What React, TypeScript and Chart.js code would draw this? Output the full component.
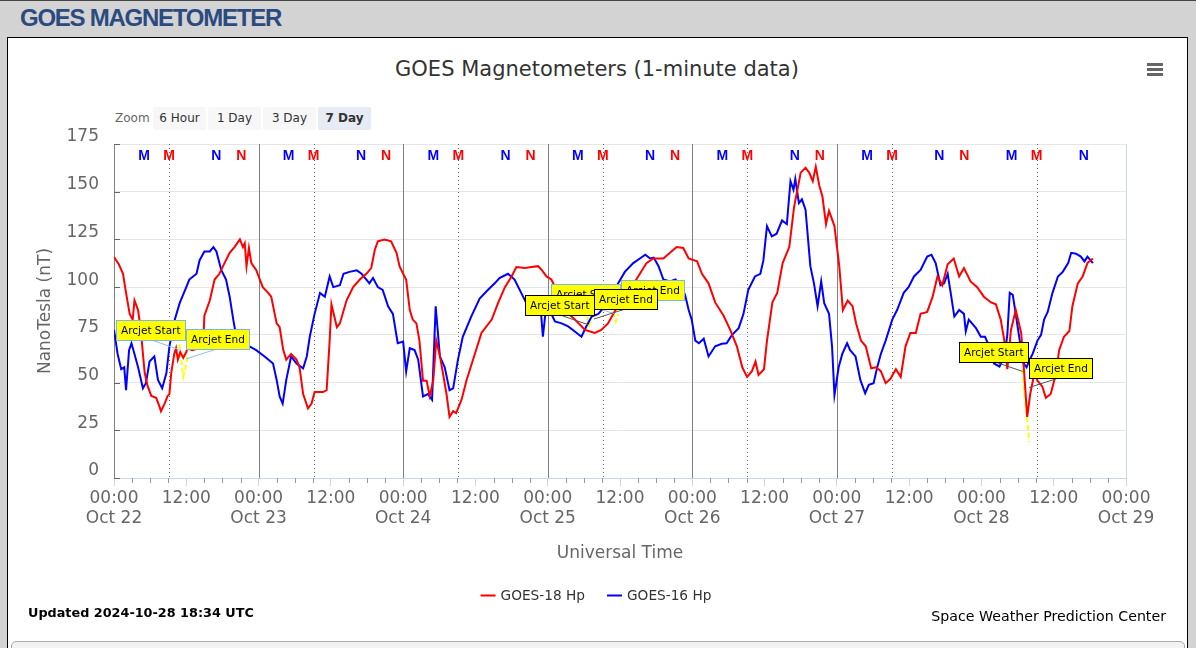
import React, { useEffect, useRef } from "react";
import { Chart, registerables } from "chart.js";

Chart.register(...registerables);

// ---------- data (x = hours since 2024-10-22 00:00 UTC, y = nT) ----------
const goes18Hp: [number, number][] = [
  [0,115.8],[0.8,112],[1.5,107],[2.0,97],[2.6,86],[3.1,83],[3.4,93],[4.0,88],[4.5,76],[4.8,65],[5.1,55],[5.6,48],[6.2,43],[7.0,42],[7.6,37],[7.8,35],[8.4,39],[8.9,43],[9.2,44],[9.5,55],[10.0,65],[10.3,68],[10.6,62],[11.0,66],[11.5,63],[12.0,66],[12.2,68],[13.0,67],[14.0,68],[14.8,69],[15.0,85],[15.9,93],[16.7,104],[17.5,107],[18.1,111],[19.2,118],[20.0,121],[20.9,125],[21.4,121],[21.7,123],[22.0,111],[22.4,120.5],[22.8,112.6],[23.6,109],[24.7,100],[25.6,97],[26.1,95],[27.0,81],[27.5,79],[28.1,67],[28.6,62],[29.4,65],[30.3,62],[30.8,58],[31.4,44],[32.2,36.5],[32.8,39],[33.3,45],[34.7,45],[35.3,46],[35.8,72],[36.1,91],[37.0,79],[37.5,81],[38.6,93],[39.7,100],[40.8,104],[41.9,107],[42.7,110],[43.3,119.6],[43.8,124],[44.9,125],[46.0,124],[46.9,118],[47.4,111],[48.0,107],[48.5,104],[49.1,88],[49.6,83],[50.2,81],[50.7,72],[51.3,51],[51.9,51],[52.4,43],[53.0,51],[53.5,72],[54.1,64],[54.6,55],[55.2,44],[55.7,32],[56.3,35],[56.8,34],[57.7,41],[58.5,51],[59.9,65],[61.0,76],[62.7,83],[63.8,92],[64.9,100],[66.0,105.6],[66.8,110.5],[68.2,110],[69.3,110.5],[70.4,111],[71.0,109],[71.8,105.6],[72.6,104],[73.7,97],[74.8,88],[76.5,83],[78.2,77.6],[79.8,76],[80.9,77.6],[82.0,81],[82.9,86],[84.0,92],[85.5,98],[87.3,107],[88.4,112.6],[89.5,115],[91.2,115],[92.3,118],[93.4,121],[94.5,120.5],[95.4,115],[96.8,113.5],[97.6,107],[98.7,102],[99.8,92],[101.2,85],[102.3,77.6],[103.4,69],[104.3,58],[105.1,53],[105.9,56],[106.5,61],[107.0,54],[107.9,57],[108.4,72],[109.3,92],[110.1,97],[111.0,112.6],[112.1,121],[112.9,142],[114.0,160],[114.8,162.5],[115.4,160],[116.0,155.5],[116.5,163],[117.1,153],[117.6,147.6],[118.2,133],[118.7,140],[119.6,132],[120.4,111],[121.0,88],[121.8,93],[122.6,90],[123.2,81],[124.0,72],[124.8,69],[125.7,57.5],[126.5,58],[127.3,56],[128.1,49.7],[128.9,52],[129.8,57],[130.6,53],[131.4,69],[132.2,76],[133.1,76],[133.9,86],[135.0,87],[135.9,95],[136.7,105.6],[137.5,101],[138.4,112],[139.4,115],[140.3,105.6],[141.1,110],[142.2,103],[143.3,100],[144.4,95],[145.6,92],[146.4,91],[147.2,83],[147.8,72],[148.3,57],[148.9,77.6],[149.7,88],[150.6,76],[151.1,55],[151.6,32],[152.1,44],[152.8,55],[153.3,51],[154.1,48],[154.7,42],[155.5,44],[156.4,55],[156.9,67],[157.7,74],[158.6,77],[159.1,90],[160.0,102],[160.8,105.6],[161.6,112.6],[162.5,115],
];

const goes16Hp: [number, number][] = [
  [0,77.6],[0.6,65],[1.2,57],[1.7,58],[2.0,46],[2.5,67],[2.9,70.6],[3.4,65],[4.0,58],[4.8,47],[5.3,49.7],[5.9,61],[6.7,63.7],[7.3,51.4],[8.0,47],[8.7,55],[9.2,69],[10.1,83],[10.9,91.6],[12.0,100],[12.5,104],[13.7,107],[14.2,114],[15.0,118.7],[15.9,118.7],[16.5,121],[17.0,118.7],[17.8,109],[18.6,104],[19.2,95],[19.8,83],[20.3,74],[21.4,70.6],[22.5,69],[23.6,67],[25.0,63.7],[26.4,60],[27.0,51.4],[27.5,42.7],[28.0,39],[28.6,51.4],[29.4,63.7],[30.3,60],[31.4,57.5],[32.0,63.7],[32.5,74],[33.3,86],[34.2,97],[35.0,95],[35.8,105.6],[36.4,100],[37.5,101],[38.1,107],[39.1,108],[40.3,108.8],[41.1,107],[41.9,104],[42.4,102],[43.0,104.8],[43.8,100],[44.6,98.6],[45.5,90],[46.3,86],[47.1,70.6],[48.0,71.5],[48.5,55.8],[49.1,68],[49.9,67],[50.5,62],[51.3,42.7],[52.1,44],[52.8,41],[53.4,90],[54.1,63.7],[54.9,58],[55.7,46],[56.3,47],[57.1,62],[57.9,74],[59.3,84.6],[60.7,94],[62.1,98.6],[63.2,102],[64.0,104.8],[65.4,107],[66.5,104],[67.6,97],[68.7,90],[69.8,86],[70.9,86],[71.2,74],[71.8,91.6],[72.3,88],[73.2,82],[74.3,81],[75.4,79.4],[76.5,76.8],[77.6,74],[78.4,79.4],[79.3,84.6],[80.4,86],[81.5,90],[82.6,95],[83.7,102],[84.8,108],[86.2,112.6],[87.3,115],[88.2,117],[89.0,115],[89.6,115.5],[90.4,111],[91.2,104],[92.3,103],[93.2,104],[94.2,100],[94.8,96],[95.4,88],[95.9,83],[96.5,72],[97.1,70.6],[97.9,73],[98.7,63.7],[99.8,69],[100.9,70.3],[101.7,70.6],[102.6,75],[103.7,78.5],[104.5,86],[105.3,98.6],[106.4,105.6],[107.3,107],[107.8,114],[108.4,132],[109.2,126.6],[110.0,128],[110.9,135],[111.7,133],[112.3,155.5],[112.8,151],[113.1,156.7],[113.7,144],[114.2,146],[114.8,140.6],[115.6,111],[116.2,102],[116.8,90],[117.4,103],[117.9,91.6],[118.7,86],[119.2,69],[119.6,43.5],[120.3,58],[120.9,65],[121.7,70.6],[122.2,67],[123.1,63.7],[123.9,51.4],[124.7,44.4],[125.3,48.8],[126.1,49.7],[126.7,58],[127.3,65],[128.1,72],[129.2,83],[130.0,88],[131.1,97],[131.9,100],[132.8,105.6],[133.9,109],[135.0,116],[135.7,117],[136.4,112.6],[137.2,101],[137.8,102],[138.4,107],[138.9,97],[139.5,84.6],[140.3,88],[141.1,86],[141.4,76.8],[141.9,83],[143.1,78.5],[143.9,74],[144.6,74],[145.3,69],[146.1,60],[147.0,58.4],[147.8,63.7],[148.3,75],[148.7,97],[149.2,96],[149.6,88],[150.0,79.4],[150.6,67],[151.0,60],[151.5,58],[152.0,62],[152.5,65],[153.3,72],[153.9,75],[154.4,83],[155.0,87],[155.8,97],[156.7,105.6],[157.5,108],[158.4,112.6],[158.9,118],[159.7,117.5],[160.5,116],[161.1,113.5],[161.6,116],[162.5,112.6],
];

// arcjet periods (null = gap between events)
const arcjetHp: [number, number | null][] = [
  [10.9,70],[11.0,66],[11.2,62],[11.4,55],[11.5,53],[11.7,56],[11.9,58],[12.1,62],[12.2,64],[12.3,null],
  [78.6,84.6],[78.9,80],[79.3,83],[79.4,null],
  [82.9,87],[83.3,82],[83.7,86],[83.8,null],
  [150.8,57],[151.0,50],[151.2,42],[151.4,36],[151.6,30],[151.8,24],[151.9,19],
];

const annotationTexts = ["Arcjet Start","Arcjet End","Arcjet Start","Arcjet End","Arcjet Start","Arcjet End","Arcjet Start","Arcjet End"];
const annotationHours = [10.89, 11.97, 83.07, 84.18, 78.74, 79.69, 150.86, 151.91];
const annotationValues = [67.2, 62.4, 86.0, 87.8, 80.3, 83.3, 55.8, 47.4];
const annotationStyle = ["light","light","light","light","dark","dark","dark","dark"];

const dayLabels = ["Oct 22","Oct 23","Oct 24","Oct 25","Oct 26","Oct 27","Oct 28","Oct 29"];
const dayBoundaryHours = [24, 48, 72, 96, 120];
const g16MidnightHours = [5, 29, 53, 77, 101, 125, 149];
const g16NoonHours = [17, 41, 65, 89, 113, 137, 161];
const g18MidnightHours = [9.15, 33.15, 57.15, 81.15, 105.15, 129.15, 153.15];
const g18NoonHours = [21.15, 45.15, 69.15, 93.15, 117.15, 141.15];
const yTickValues = [0, 25, 50, 75, 100, 125, 150, 175];

const FONT = "'DejaVu Sans', sans-serif";
const RED = "#ff0000";
const BLUE = "#0000ff";

const overlayPlugin = {
  id: "overlay",
  beforeDatasetsDraw(chart: any) {
    const { ctx, chartArea: a, scales } = chart;
    const x = scales.x, y = scales.y;
    ctx.save();
    ctx.lineWidth = 1;
    const vline = (h: number, color: string, dash: number[]) => {
      const px = Math.round(x.getPixelForValue(h)) + 0.5;
      ctx.strokeStyle = color;
      ctx.setLineDash(dash);
      ctx.beginPath();
      ctx.moveTo(px, a.top);
      ctx.lineTo(px, a.bottom);
      ctx.stroke();
    };
    dayBoundaryHours.forEach((h) => vline(h, "#808080", []));
    g18MidnightHours.forEach((h) => vline(h, "#666666", [1, 3]));
    ctx.setLineDash([]);
    ctx.strokeStyle = "#ccd6eb";
    ctx.beginPath();
    ctx.moveTo(Math.round(a.right) + 0.5, a.top);
    ctx.lineTo(Math.round(a.right) + 0.5, a.bottom);
    ctx.stroke();
    ctx.strokeStyle = "#666666";
    yTickValues.forEach((v) => {
      const py = Math.round(y.getPixelForValue(v)) + 0.5;
      ctx.beginPath();
      ctx.moveTo(a.left, py);
      ctx.lineTo(a.left + 6, py);
      ctx.stroke();
    });
    ctx.strokeStyle = "#999999";
    for (let h = 3; h < 168; h += 3) {
      if (h % 12 === 0) continue;
      const px = Math.round(x.getPixelForValue(h)) + 0.5;
      ctx.beginPath();
      ctx.moveTo(px, a.bottom);
      ctx.lineTo(px, a.bottom + 5);
      ctx.stroke();
    }
    ctx.restore();
  },
  afterDatasetsDraw(chart: any) {
    const { ctx, chartArea: a, scales } = chart;
    const x = scales.x, y = scales.y;
    ctx.save();
    ctx.font = "bold 14px 'Liberation Sans', Arial, sans-serif";
    ctx.textAlign = "center";
    ctx.textBaseline = "middle";
    const mark = (hours: number[], text: string, color: string) => {
      ctx.fillStyle = color;
      hours.forEach((h) => ctx.fillText(text, x.getPixelForValue(h), a.top + 12));
    };
    mark(g16MidnightHours, "M", BLUE);
    mark(g18MidnightHours, "M", RED);
    mark(g16NoonHours, "N", BLUE);
    mark(g18NoonHours, "N", RED);

    ctx.font = `10.5px ${FONT}`;
    annotationTexts.forEach((text, i) => {
      const ax = x.getPixelForValue(annotationHours[i]);
      const ay = y.getPixelForValue(annotationValues[i]);
      const isStart = text.indexOf("Start") >= 0;
      const w = Math.round(ctx.measureText(text).width + 9);
      const h = 20;
      const cx = ax + (isStart ? -29 : 31);
      const bottom = ay - 10;
      const left = Math.round(cx - w / 2) + 0.5;
      const top = Math.round(bottom - h) + 0.5;
      const light = annotationStyle[i] === "light";
      ctx.strokeStyle = light ? "#8fbde8" : "#555555";
      ctx.lineWidth = 1;
      ctx.beginPath();
      ctx.moveTo(cx, bottom);
      ctx.lineTo(ax, ay);
      ctx.stroke();
      ctx.fillStyle = "#ffff00";
      ctx.fillRect(left, top, w, h);
      ctx.strokeStyle = light ? "#7cb5ec" : "#000000";
      ctx.strokeRect(left, top, w, h);
      ctx.fillStyle = "#000000";
      ctx.textAlign = "left";
      ctx.textBaseline = "middle";
      ctx.fillText(text, left + 4.5, top + h / 2 + 0.5);
    });

    const items = chart.data.datasets.filter((d: any) => d.label !== "Arcjet");
    ctx.font = `13.7px ${FONT}`;
    const sym = 15, gapSym = 5, gapItem = 22;
    const widths = items.map((d: any) => ctx.measureText(d.label).width);
    const total = widths.reduce((s: number, w: number) => s + sym + gapSym + w, 0) + gapItem * (items.length - 1);
    let lx = chart.width / 2 - total / 2 - 1;
    const ly = 557.5;
    items.forEach((d: any, i: number) => {
      ctx.strokeStyle = d.borderColor;
      ctx.lineWidth = 2;
      ctx.beginPath();
      ctx.moveTo(lx, ly);
      ctx.lineTo(lx + sym, ly);
      ctx.stroke();
      ctx.fillStyle = "#333333";
      ctx.textAlign = "left";
      ctx.textBaseline = "middle";
      ctx.fillText(d.label, lx + sym + gapSym, ly + 0.5);
      lx += sym + gapSym + widths[i] + gapItem;
    });
    ctx.restore();
  },
};

const zoomButtons = ["6 Hour", "1 Day", "3 Day", "7 Day"];

export default function App() {
  const canvasRef = useRef<HTMLCanvasElement>(null);

  useEffect(() => {
    const canvas = canvasRef.current;
    if (!canvas) return;
    const chart = new Chart(canvas, {
      type: "line",
      data: {
        datasets: [
          {
            label: "GOES-18 Hp",
            data: goes18Hp.map(([h, v]) => ({ x: h, y: v })),
            borderColor: RED,
            backgroundColor: RED,
            borderWidth: 2,
            pointRadius: 0,
            tension: 0,
          },
          {
            label: "GOES-16 Hp",
            data: goes16Hp.map(([h, v]) => ({ x: h, y: v })),
            borderColor: BLUE,
            backgroundColor: BLUE,
            borderWidth: 2,
            pointRadius: 0,
            tension: 0,
          },
          {
            label: "Arcjet",
            data: arcjetHp.map(([h, v]) => ({ x: h, y: v })),
            borderColor: "#ffff00",
            backgroundColor: "#ffff00",
            borderWidth: 2,
            borderDash: [5, 3],
            pointRadius: 0,
            tension: 0,
            spanGaps: false,
          },
        ],
      } as any,
      options: {
        responsive: false,
        animation: false,
        events: [],
        layout: { padding: { top: 106, right: 60, left: 0, bottom: 12 } },
        plugins: {
          legend: { display: false },
          title: { display: false },
          tooltip: { enabled: false },
        },
        scales: {
          x: {
            type: "linear",
            min: 0,
            max: 168,
            afterFit: (s: any) => { s.height = 122; },
            grid: { display: true, drawOnChartArea: false, drawTicks: true, tickLength: 8, color: "#ccd6eb" },
            border: { display: true, color: "#ccd6eb" },
            ticks: {
              stepSize: 12,
              autoSkip: false,
              maxRotation: 0,
              minRotation: 0,
              padding: 2,
              color: "#666666",
              font: { size: 17, family: FONT },
              callback: (v: any) => {
                const h = Number(v);
                if (h % 24 === 0) return ["00:00", dayLabels[h / 24]];
                return "12:00";
              },
            },
            title: {
              display: true,
              text: "Universal Time",
              color: "#666666",
              font: { size: 17, family: FONT },
              padding: { top: 0, bottom: 36 },
            },
          },
          y: {
            min: 0,
            max: 175,
            afterFit: (s: any) => { s.width = 106; },
            grid: { color: "#e6e6e6", drawTicks: false, tickLength: 0 },
            border: { display: true, color: "#808080" },
            ticks: {
              stepSize: 25,
              padding: 15,
              labelOffset: -7,
              color: "#666666",
              font: { size: 17, family: FONT },
            },
            title: {
              display: true,
              text: "NanoTesla (nT)",
              color: "#666666",
              font: { size: 17, family: FONT },
              padding: { top: 27, bottom: 0 },
            },
          },
        },
      } as any,
      plugins: [overlayPlugin],
    });
    return () => chart.destroy();
  }, []);

  return (
    <div
      style={{
        position: "fixed",
        left: 0,
        top: 0,
        width: 1196,
        height: 648,
        overflow: "hidden",
        background: "#d3d3d3",
        fontFamily: FONT,
      }}
    >
      <div style={{ position: "absolute", left: 0, top: 0, width: 1196, height: 1, background: "#444" }} />
      <div
        style={{
          position: "absolute",
          left: 20,
          top: 6,
          fontFamily: "'Liberation Sans', Arial, sans-serif",
          fontWeight: "bold",
          fontSize: 24,
          lineHeight: "24px",
          letterSpacing: "-1.25px",
          color: "#2b4a7f",
          whiteSpace: "nowrap",
        }}
      >
        GOES MAGNETOMETER
      </div>
      <div
        style={{
          position: "absolute",
          left: 7,
          top: 37,
          width: 1179,
          height: 640,
          background: "#ffffff",
          border: "1px solid #000",
        }}
      />
      <div
        style={{
          position: "absolute",
          left: 8,
          top: 57,
          width: 1178,
          textAlign: "center",
          fontSize: 21,
          lineHeight: "24px",
          color: "#333333",
          whiteSpace: "nowrap",
        }}
      >
        GOES Magnetometers (1-minute data)
      </div>
      {[63, 68, 73].map((t) => (
        <div key={t} style={{ position: "absolute", left: 1147, top: t, width: 16, height: 3, background: "#666" }} />
      ))}
      <div
        style={{
          position: "absolute",
          left: 115,
          top: 109,
          fontSize: 12,
          lineHeight: "18px",
          color: "#666666",
        }}
      >
        Zoom
      </div>
      {zoomButtons.map((b, i) => (
        <div
          key={b}
          style={{
            position: "absolute",
            left: 153 + i * 55,
            top: 107,
            width: 53,
            height: 23,
            lineHeight: "22px",
            textAlign: "center",
            fontSize: 12,
            borderRadius: 2,
            background: i === 3 ? "#e6ebf5" : "#f7f7f7",
            color: "#333",
            fontWeight: i === 3 ? "bold" : "normal",
          }}
        >
          {b}
        </div>
      ))}
      <canvas
        ref={canvasRef}
        width={1178}
        height={574}
        style={{ position: "absolute", left: 8, top: 38, width: 1178, height: 574 }}
      />
      <div
        style={{
          position: "absolute",
          left: 28,
          top: 605,
          fontSize: 12.8,
          lineHeight: "16px",
          fontWeight: "bold",
          color: "#000",
          whiteSpace: "nowrap",
        }}
      >
        Updated 2024-10-28 18:34 UTC
      </div>
      <div
        style={{
          position: "absolute",
          right: 30,
          top: 608,
          fontSize: 14.2,
          lineHeight: "16px",
          color: "#000",
          whiteSpace: "nowrap",
        }}
      >
        Space Weather Prediction Center
      </div>
      <div
        style={{
          position: "absolute",
          left: 11,
          top: 641,
          width: 1172,
          height: 30,
          border: "1px solid #aaa",
          borderRadius: 5,
          background: "#f2f2f2",
        }}
      />
    </div>
  );
}
